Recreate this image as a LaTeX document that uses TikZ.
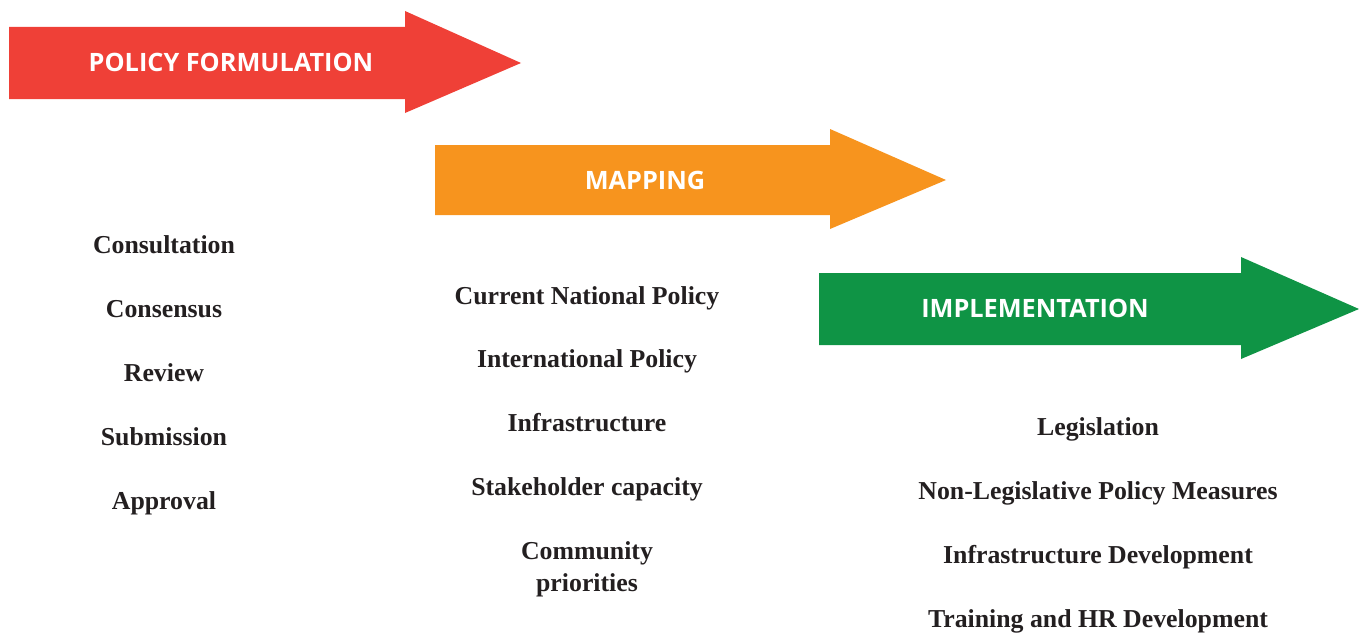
\documentclass[tikz,border=0pt]{standalone}
\usepackage{fontspec}
\setmainfont{Liberation Serif}
\newfontfamily\labelfont{Open Sans}
\definecolor{phasered}{HTML}{EF4037}
\definecolor{phaseorange}{HTML}{F7941E}
\definecolor{phasegreen}{HTML}{0F9445}
\definecolor{itemtext}{HTML}{231F20}
\begin{document}
\begin{tikzpicture}[x=1pt,y=-1pt,
  phaselabel/.style={text=white,font=\labelfont\bfseries\fontsize{25.3}{30}\selectfont,inner sep=0pt},
  item/.style={text=itemtext,font=\bfseries\fontsize{25.8}{32}\selectfont,align=center,inner sep=0pt,anchor=base}]
\useasboundingbox (0,0) rectangle (1359,634);
% phase arrows: body from x0 to x1, head to tip
\newcommand\phasearrow[6]{% color, x0, x1, tip, ytop, ybot
  \fill[#1] (#2,#5) -- (#3,#5) -- (#3,#5-16) -- (#4,{(#5+#6)/2}) -- (#3,#6+14) -- (#3,#6) -- (#2,#6) -- cycle;}
\phasearrow{phasered}{9}{405}{521}{27}{99}
\phasearrow{phaseorange}{435}{830}{946}{145}{215}
\phasearrow{phasegreen}{819}{1241}{1359}{273}{345}
\node[phaselabel] (pf) at (231,62) {POLICY FORMULATION};
\node[phaselabel] (map) at (645,180) {MAPPING};
\node[phaselabel] (imp) at (1035,308) {IMPLEMENTATION};
% formulation steps
\node[item] (c1) at (164,253) {Consultation};
\node[item] (c2) at (164,317) {Consensus};
\node[item] (c3) at (164,381) {Review};
\node[item] (c4) at (164,445) {Submission};
\node[item] (c5) at (164,509) {Approval};
% mapping items
\node[item] (m1) at (587,304) {Current National Policy};
\node[item] (m2) at (587,367) {International Policy};
\node[item] (m3) at (587,431) {Infrastructure};
\node[item] (m4) at (587,495) {Stakeholder capacity};
\node[item] (m5) at (587,591) {Community\\priorities};
% implementation items
\node[item] (i1) at (1098,435) {Legislation};
\node[item] (i2) at (1098,499) {Non-Legislative Policy Measures};
\node[item] (i3) at (1098,563) {Infrastructure Development};
\node[item] (i4) at (1098,627) {Training and HR Development};
\end{tikzpicture}
\end{document}
